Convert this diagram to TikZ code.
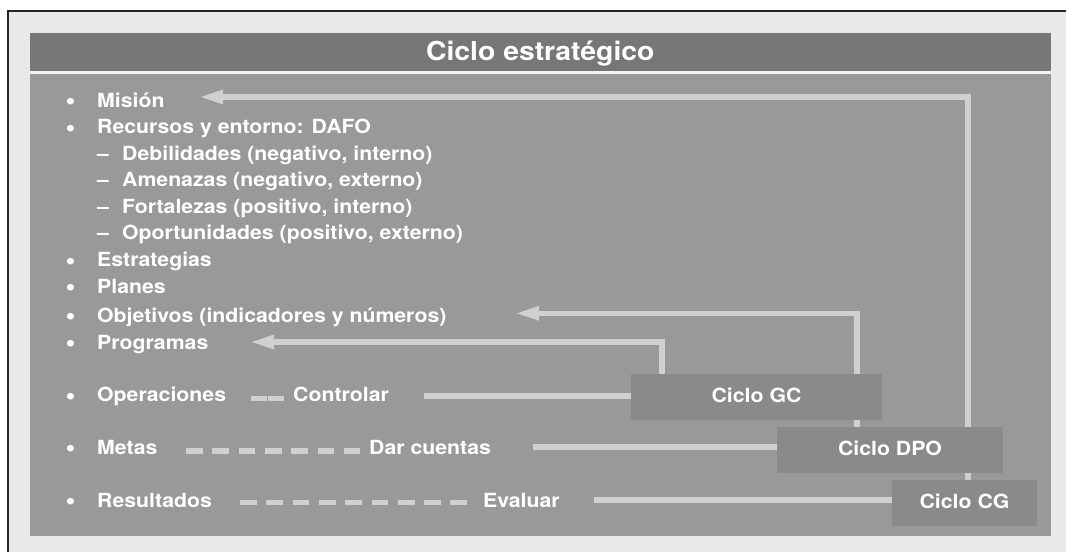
\documentclass[tikz,border=0pt]{standalone}
\usepackage{fontspec}
\setmainfont{TeX Gyre Heros}[FakeStretch=1.09]
\usetikzlibrary{arrows.meta}
\definecolor{bgout}{HTML}{E9E9E9}
\definecolor{titlebar}{HTML}{777777}
\definecolor{panel}{HTML}{999999}
\definecolor{boxfill}{HTML}{8A8A8A}
\definecolor{linecol}{HTML}{D0D0D0}
\definecolor{gapcol}{HTML}{F3F3F3}
\pgfdeclarelayer{bg}
\pgfdeclarelayer{lines}
\pgfsetlayers{bg,lines,main}
\tikzset{
  txt/.style={anchor=base west, inner sep=0pt, text=white, font=\fontsize{19.5}{23}\selectfont\bfseries},
  bul/.style={anchor=base, inner sep=0pt, text=white, yshift=-2.5pt, font=\fontsize{26}{26}\selectfont\bfseries},
  cyclebox/.style={fill=boxfill, draw=none, inner sep=0pt, text=white,
    font=\fontsize{19.5}{23}\selectfont\bfseries, text height=14pt, text depth=3.4pt,
    minimum height=46pt},
  ln/.style={draw=linecol, line width=5.5pt},
  arr/.style={ln, -{Triangle[length=24pt,width=13pt]}},
  dsh/.style={draw=linecol, line width=5.5pt, dash pattern=on 16.7pt off 9.6pt},
  dshs/.style={draw=linecol, line width=5.5pt, dash pattern=on 15.7pt off 1.6pt}
}
\begin{document}
\begin{tikzpicture}[x=1pt,y=-1pt]
\useasboundingbox (0,0) rectangle (1066,552);
\begin{pgfonlayer}{bg}
  \fill[white] (0,0) rectangle (1066,552);
  \fill[bgout] (8,11) rectangle (1066,552);
  \draw[line width=1.2pt, black!85] (8,552) -- (8,11) -- (1066,11);
  \fill[titlebar] (30,33) rectangle (1051,71);
  \fill[gapcol] (30,71) rectangle (1051,74);
  \fill[panel] (30,74) rectangle (1051,536);
\end{pgfonlayer}

\node[anchor=base, inner sep=0pt, text=white, font=\fontsize{26}{30}\selectfont\bfseries] (title) at (540.3,60) {Ciclo estratégico};

% list
\node[bul] (b1) at (70.5,107) {•};
\node[txt] (mision) at (97,107) {Misión};
\node[bul] (b2) at (70.5,133.5) {•};
\node[txt] (recursos) at (97,133.5) {Recursos y entorno: DAFO};
\node[txt] (d1) at (97,160) {–};
\node[txt] (deb) at (122,160) {Debilidades (negativo, interno)};
\node[txt] (d2) at (97,186.5) {–};
\node[txt] (ame) at (122,186.5) {Amenazas (negativo, externo)};
\node[txt] (d3) at (97,213) {–};
\node[txt] (fort) at (122,213) {Fortalezas (positivo, interno)};
\node[txt] (d4) at (97,239.5) {–};
\node[txt] (opor) at (122,239.5) {Oportunidades (positivo, externo)};
\node[bul] (b3) at (70.5,266.5) {•};
\node[txt] (estr) at (97,266.5) {Estrategias};
\node[bul] (b4) at (70.5,293) {•};
\node[txt] (planes) at (97,293) {Planes};
\node[bul] (b5) at (70.5,322) {•};
\node[txt] (obj) at (97,322) {Objetivos (indicadores y números)};
\node[bul] (b6) at (70.5,349) {•};
\node[txt] (prog) at (97,349) {Programas};
\node[bul] (b7) at (70.5,401.5) {•};
\node[txt] (oper) at (97,401.5) {Operaciones};
\node[txt] (ctrl) at (293,401.5) {Controlar};
\node[bul] (b8) at (70.5,454) {•};
\node[txt] (metas) at (97,454) {Metas};
\node[txt] (dar) at (369,454) {Dar cuentas};
\node[bul] (b9) at (70.5,507) {•};
\node[txt] (res) at (97,507) {Resultados};
\node[txt] (eval) at (483,507) {Evaluar};

% cycle boxes
\node[cyclebox, minimum width=251pt] (gc) at (756.5,397) {Ciclo GC};
\node[cyclebox, minimum width=226pt] (dpo) at (890,450) {Ciclo DPO};
\node[cyclebox, minimum width=145pt] (cg) at (964.5,503) {Ciclo CG};

% coordinates
\coordinate (misT) at (199,97);
\coordinate (objT) at (515,313.3);
\coordinate (progT) at (250,342);
\coordinate (vM) at (968,0);
\coordinate (vO) at (857,0);
\coordinate (vP) at (662,0);
\coordinate (opsE) at (424,396);
\coordinate (metE) at (533,447);
\coordinate (resE) at (594,500);
\coordinate (opsA) at (251,398.5);
\coordinate (opsB) at (284,398.5);
\coordinate (metA) at (186,451);
\coordinate (metB) at (360,451);
\coordinate (resA) at (240,502.3);
\coordinate (resB) at (468,502.3);

\begin{pgfonlayer}{lines}
  \draw[arr] (cg.north -| vM) |- (misT);
  \draw[arr] (dpo.north -| vO) |- (objT);
  \draw[arr] (gc.north -| vP) |- (progT);
  \draw[ln] (opsE) -- (gc.west |- opsE);
  \draw[ln] (metE) -- (dpo.west |- metE);
  \draw[ln] (resE) -- (cg.west |- resE);
  \draw[dshs] (opsA) -- (opsB);
  \draw[dsh] (metA) -- (metB);
  \draw[dsh] (resA) -- (resB);
\end{pgfonlayer}
\end{tikzpicture}
\end{document}
